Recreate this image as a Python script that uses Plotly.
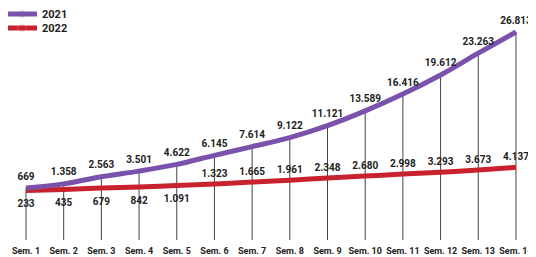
import plotly.graph_objects as go

weeks = ["Sem. 1", "Sem. 2", "Sem. 3", "Sem. 4", "Sem. 5", "Sem. 6", "Sem. 7",
         "Sem. 8", "Sem. 9", "Sem. 10", "Sem. 11", "Sem. 12", "Sem. 13", "Sem. 14"]
v2021 = [669, 1358, 2563, 3501, 4622, 6145, 7614, 9122, 11121, 13589, 16416, 19612, 23263, 26813]
v2022 = [233, 435, 679, 842, 1091, 1323, 1665, 1961, 2348, 2680, 2998, 3293, 3673, 4137]

def fmt(v):
    return f"{v:,}".replace(",", ".")

PURPLE = "#7B52AB"
RED = "#C8222E"
FONT = "Roboto, Liberation Sans, sans-serif"
YMIN = -8045
YMAX = 30838

fig = go.Figure()

# drop lines from the 2021 values down to the bottom of the plot
fig.add_trace(go.Scatter(
    x=weeks, y=v2021, mode="markers", marker=dict(size=0.1, opacity=0),
    error_y=dict(type="data", symmetric=False, array=[0] * len(v2021),
                 arrayminus=[v - YMIN for v in v2021], width=0, thickness=1,
                 color="#444444"),
    showlegend=False, hoverinfo="skip"))

red_pos = ["bottom center"] * 5 + ["top center"] * 9
red_msize = [13] * 5 + [6] * 9

valfont = dict(family=FONT, size=10, color="#222222", weight="bold")

fig.add_trace(go.Scatter(
    x=weeks, y=v2022, mode="lines+markers+text", name="2022", legend="legend2",
    line=dict(color=RED, width=5, shape="spline"),
    marker=dict(size=red_msize, opacity=0, color=RED),
    text=[fmt(v) for v in v2022], textposition=red_pos,
    textfont=valfont, cliponaxis=False))

fig.add_trace(go.Scatter(
    x=weeks, y=v2021, mode="lines+markers+text", name="2021", legend="legend",
    line=dict(color=PURPLE, width=5, shape="spline"),
    marker=dict(size=8, opacity=0, color=PURPLE),
    text=[fmt(v) for v in v2021], textposition="top center",
    textfont=valfont, cliponaxis=False))

legfont = dict(family=FONT, size=11, color="#222222", weight="bold")
fig.update_layout(
    width=536, height=257,
    margin=dict(l=0, r=0, t=0, b=25, autoexpand=False),
    paper_bgcolor="white", plot_bgcolor="white",
    font=dict(family=FONT, size=11, color="#222222", weight="bold"),
    legend=dict(x=-0.0112, y=1.037, xanchor="left", yanchor="top", itemwidth=30,
                font=legfont, bgcolor="rgba(0,0,0,0)"),
    legend2=dict(x=-0.0112, y=0.976, xanchor="left", yanchor="top", itemwidth=30,
                 font=legfont, bgcolor="rgba(0,0,0,0)"),
    showlegend=True,
)
fig.update_xaxes(type="category", range=[-0.4776, 13.744], showgrid=False,
                 zeroline=False, showline=False, ticks="", ticklen=0,
                 tickangle=0, automargin=False, ticklabelstandoff=4,
                 tickfont=dict(family=FONT, size=9, color="#222222", weight="bold"))
fig.update_yaxes(range=[YMIN, YMAX], visible=False, showgrid=False, zeroline=False,
                 automargin=False)

fig.write_html("out.html")
